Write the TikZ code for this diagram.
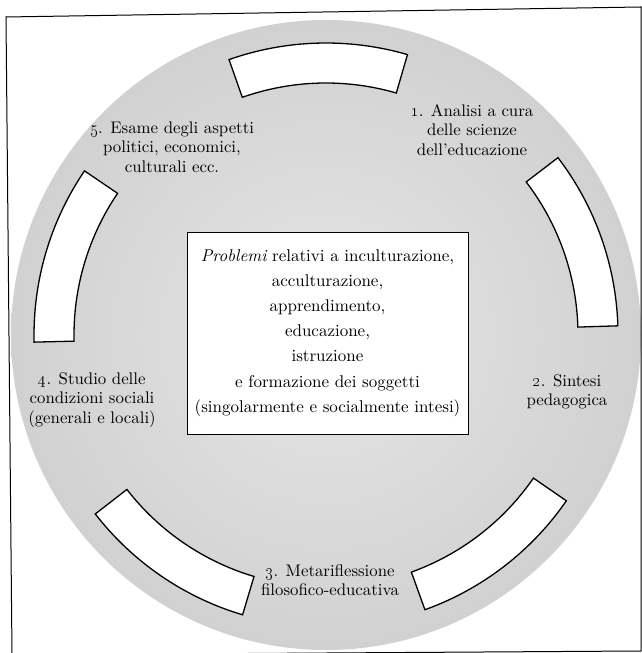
\documentclass[tikz,border=0pt]{standalone}
\usetikzlibrary{calc}
\pgfdeclareradialshading{discshade}{\pgfpoint{0bp}{0bp}}{color(0bp)=(black!10); color(25bp)=(black!18); color(40bp)=(black!32); color(50bp)=(black!52)}
\font\labfnt="[lmroman10-regular.otf]" at 16.8pt
\font\boxfnt="[lmroman10-regular.otf]" at 17pt
\font\boxitfnt="[lmroman10-italic.otf]" at 17pt
\tikzset{
  segm/.style={draw=black, fill=white, line width=1.3pt, line join=miter},
  lab/.style={align=center, inner sep=0pt, font=\fontsize{16.8}{19.5}\selectfont\labfnt},
  probbox/.style={draw=black, fill=white, line width=0.9pt, minimum width=281pt,
    minimum height=202pt, align=center, inner sep=0pt, font=\fontsize{17}{25.2}\selectfont\boxfnt},
  frameline/.style={draw=black, line width=1pt},
}
\begin{document}
\begin{tikzpicture}[x=1pt,y=1pt]
\useasboundingbox (0,0) rectangle (642,653);
\coordinate (c) at (326,318);
\coordinate (f1) at (6,636);
\coordinate (f2) at (641,646);
\coordinate (f3) at (641,2);
\coordinate (f4) at (12,-2);
\begin{scope}
  \clip (f1) -- (f2) -- (f3) -- (f4) -- cycle;
  \shade[shading=discshade] (c) circle[radius=315pt];
\end{scope}
\draw[frameline] (f4) -- (f1) -- (f2) -- (f3) -- (f4);
\foreach \k in {0,...,4} {
  \pgfmathsetmacro\as{1.8+72*\k}
  \pgfmathsetmacro\ae{37.4+72*\k}
  \draw[segm] ($(c)+(\as:252pt)$) arc[start angle=\as, end angle=\ae, radius=252pt]
    -- ($(c)+(\ae:292pt)$) arc[start angle=\ae, end angle=\as, radius=292pt] -- cycle;
}
\node[probbox] (prob) at (327.5,320) {{\boxitfnt Problemi} relativi a inculturazione,\\ acculturazione,\\ apprendimento,\\ educazione,\\ istruzione\\ e formazione dei soggetti\\ (singolarmente e socialmente intesi)};
\node[lab] (l1) at (472,523) {\oldstylenums{1}. Analisi a cura\\ delle scienze\\ dell’educazione};
\node[lab] (l2) at (567,261) {\oldstylenums{2}. Sintesi\\ pedagogica};
\node[lab] (l3) at (330,73) {\oldstylenums{3}. Metariflessione\\ filosofico-educativa};
\node[lab] (l4) at (92,253) {\oldstylenums{4}. Studio delle\\ condizioni sociali\\ (generali e locali)};
\node[lab] (l5) at (172,506) {\oldstylenums{5}. Esame degli aspetti\\ politici, economici,\\ culturali ecc.};
\end{tikzpicture}
\end{document}
